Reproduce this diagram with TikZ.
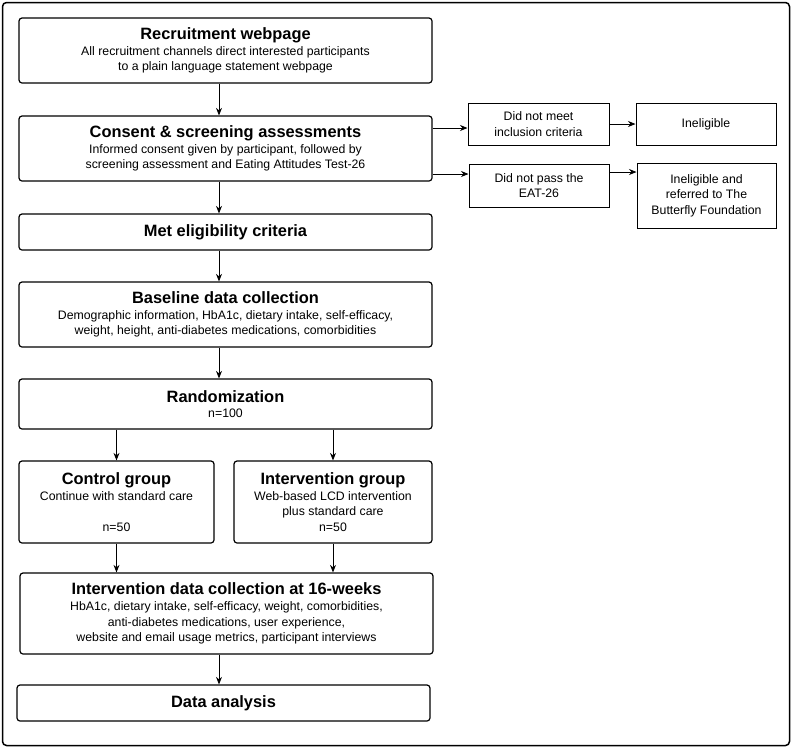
\documentclass[tikz,border=0pt]{standalone}
\usepackage{fontspec}
\setmainfont{Liberation Sans}
\usetikzlibrary{arrows.meta}

\newcommand{\boxtitle}[1]{{\fontsize{16.4}{16}\selectfont\bfseries #1}}

\tikzset{
    mainbox/.style={draw, line width=1.2pt, rounded corners=3pt, align=center, inner sep=0pt,
        minimum width=413pt, font=\fontsize{12.3}{15.7}\selectfont},
    sidebox/.style={draw, line width=1pt, align=center, inner sep=0pt,
        minimum width=140pt, font=\fontsize{12.3}{15.5}\selectfont},
    arr/.style={-{Stealth[length=7.5pt, width=6pt]}, line width=0.9pt}
}

\begin{document}
\begin{tikzpicture}[x=1pt, y=-1pt]
    \useasboundingbox (0,0) rectangle (792,748);

    % Outer frame
    \draw[line width=1.5pt, rounded corners=4pt] (2.5,2.5) rectangle (789.5,745.5);

    % Main column
    \node[mainbox, minimum height=65pt] (rec) at (225.5,50.5)
        {\boxtitle{Recruitment webpage}\\ All recruitment channels direct interested participants\\ to a plain language statement webpage};
    \node[mainbox, minimum height=65pt] (cons) at (225.5,148.5)
        {\boxtitle{Consent \& screening assessments}\\ Informed consent given by participant, followed by\\ screening assessment and Eating Attitudes Test-26};
    \node[mainbox, minimum height=36pt] (elig) at (225.5,232)
        {\boxtitle{Met eligibility criteria}};
    \node[mainbox, minimum height=65pt] (base) at (225.5,314.5)
        {\boxtitle{Baseline data collection}\\ Demographic information, HbA1c, dietary intake, self-efficacy,\\ weight, height, anti-diabetes medications, comorbidities};
    \node[mainbox, minimum height=50pt] (rand) at (225.5,404)
        {\boxtitle{Randomization}\\ n=100};

    % Groups
    \node[mainbox, minimum width=195pt, minimum height=82pt] (ctrl) at (116.5,502)
        {\boxtitle{Control group}\\ Continue with standard care\\[15.7pt] n=50};
    \node[mainbox, minimum width=198pt, minimum height=82pt] (intv) at (333,502)
        {\boxtitle{Intervention group}\\ Web-based LCD intervention\\ plus standard care\\ n=50};

    \node[mainbox, minimum height=81pt] (coll) at (226.5,613.5)
        {\boxtitle{Intervention data collection at 16-weeks}\\ HbA1c, dietary intake, self-efficacy, weight, comorbidities,\\ anti-diabetes medications, user experience,\\ website and email usage metrics, participant interviews};
    \node[mainbox, minimum height=36pt] (anal) at (223.5,703)
        {\boxtitle{Data analysis}};

    % Exclusions
    \node[sidebox, minimum width=141pt, minimum height=42pt] (nomeet) at (538.5,124)
        {Did not meet\\ inclusion criteria};
    \node[sidebox, minimum height=42pt] (inel) at (706,124) {Ineligible};
    \node[sidebox, minimum height=43pt] (nopass) at (539,185.5)
        {Did not pass the\\ EAT-26};
    \node[sidebox, minimum width=139pt, minimum height=65pt] (refer) at (706.5,195.5)
        {Ineligible and\\ referred to The\\ Butterfly Foundation};

    % Arrows
    \coordinate (spine) at (219,0);
    \foreach \a/\b in {rec/cons, cons/elig, elig/base, base/rand, coll/anal} {
        \draw[arr] (\a.south -| spine) -- (\b.north -| spine);
    }
    \draw[arr] (rand.south -| ctrl.north) -- (ctrl.north);
    \draw[arr] (rand.south -| intv.north) -- (intv.north);
    \draw[arr] (ctrl.south) -- (ctrl.south |- coll.north);
    \draw[arr] (intv.south) -- (intv.south |- coll.north);

    \draw[arr] ([yshift=20.5pt]cons.east) -- ([yshift=20.5pt]cons.east -| nomeet.west);
    \draw[arr] ([yshift=-25.5pt]cons.east) -- ([yshift=-25.5pt]cons.east -| nopass.west);
    \draw[arr] (nomeet.east) -- (inel.west);
    \draw[arr] ([yshift=13.5pt]nopass.east) -- ([yshift=13.5pt]nopass.east -| refer.west);

\end{tikzpicture}
\end{document}
